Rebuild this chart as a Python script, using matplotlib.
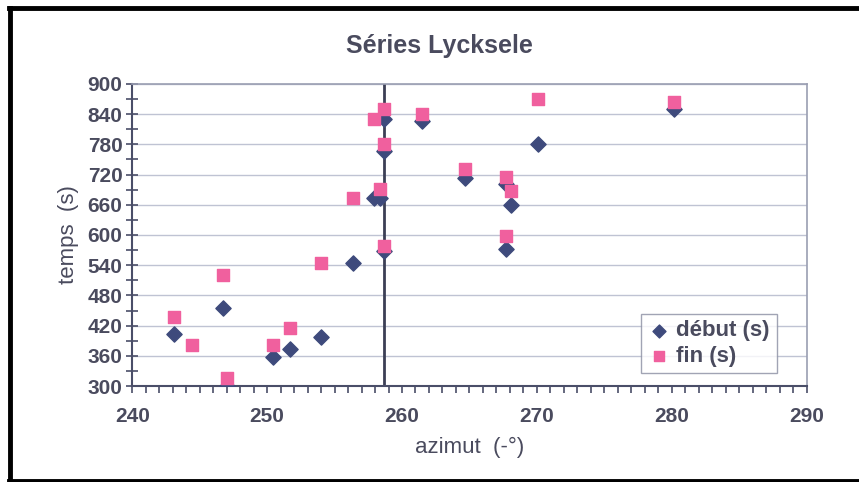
import matplotlib.pyplot as plt
from matplotlib.lines import Line2D
from matplotlib.ticker import MultipleLocator

# valeurs
azimut_debut = [243.1, 246.7, 247.0, 250.4, 251.7, 254.0, 256.4, 257.9, 258.4,
                258.7, 258.7, 258.7, 261.5, 264.7, 267.7, 268.1, 267.7, 270.1, 280.2]
debut = [403, 455, 300, 358, 373, 398, 545, 673, 673,
         830, 766, 569, 826, 714, 701, 660, 572, 781, 850]

azimut_fin = [243.1, 244.4, 246.7, 247.0, 250.4, 251.7, 254.0, 256.4, 257.9, 258.4,
              258.7, 258.7, 258.7, 261.5, 264.7, 267.7, 268.1, 267.7, 270.1, 280.2]
fin = [438, 382, 520, 317, 382, 416, 545, 673, 830, 692,
       850, 780, 579, 840, 730, 716, 688, 598, 869, 864]

azimut_ref = 258.7

text_col = '#4a4b5e'
axis_col = '#4a4e68'
grid_col = '#bfc3d3'

plt.rcParams['font.family'] = ['Liberation Sans', 'DejaVu Sans']

fig = plt.figure(figsize=(8.59, 4.82), dpi=100)
ax = fig.add_axes([0.154, 0.199, 0.785, 0.627])

ax.axvline(azimut_ref, color='#3c3f55', lw=2, zorder=2)
ax.scatter(azimut_debut, debut, marker='D', s=60, color='#3e4a7c', zorder=3, label='début (s)')
ax.scatter(azimut_fin, fin, marker='s', s=85, color='#f0609e', zorder=4, label='fin (s)')

ax.set_xlim(240, 290)
ax.set_ylim(300, 900)
ax.xaxis.set_major_locator(MultipleLocator(10))
ax.xaxis.set_minor_locator(MultipleLocator(1))
ax.yaxis.set_major_locator(MultipleLocator(60))
ax.yaxis.set_minor_locator(MultipleLocator(30))
ax.grid(True, axis='y', which='major', color=grid_col, lw=1)
ax.set_axisbelow(True)

for s in ['left', 'bottom']:
    ax.spines[s].set_color(axis_col)
    ax.spines[s].set_linewidth(1.5)
for s in ['top', 'right']:
    ax.spines[s].set_color('#9a9eb2')
    ax.spines[s].set_linewidth(1.2)

ax.tick_params(axis='x', which='both', direction='out', length=5, width=1.2,
               color=axis_col, pad=10)
ax.tick_params(axis='y', which='both', direction='inout', length=8, width=1.2,
               color=axis_col, pad=3)
for lab in ax.get_xticklabels() + ax.get_yticklabels():
    lab.set_fontsize(15)
    lab.set_fontweight('bold')
    lab.set_color(text_col)

ax.set_xlabel('azimut  (-°)', fontsize=16, color=text_col, labelpad=8)
ax.set_ylabel('temps  (s)', fontsize=16, color=text_col, labelpad=6)
fig.text(0.512, 0.905, 'Séries Lycksele', ha='center', va='center',
         fontsize=18, fontweight='bold', color=text_col)

leg = ax.legend(loc='lower right', bbox_to_anchor=(0.972, 0.005), frameon=True,
                fancybox=False, edgecolor='#8a8ea2', prop={'size': 16, 'weight': 'bold'},
                handletextpad=0.3, borderpad=0.3, labelspacing=0.2, handlelength=1.0,
                markerscale=0.85)
for t in leg.get_texts():
    t.set_color(text_col)

# cadre noir autour de la figure
fig.add_artist(Line2D([0.012, 0.012], [0.0, 0.984], transform=fig.transFigure, color='black', lw=3.5))
fig.add_artist(Line2D([0.010, 1.0], [0.983, 0.983], transform=fig.transFigure, color='black', lw=3.5))
fig.add_artist(Line2D([0.010, 1.0], [0.003, 0.003], transform=fig.transFigure, color='black', lw=3.5))

fig.savefig('out.png', dpi=100)
